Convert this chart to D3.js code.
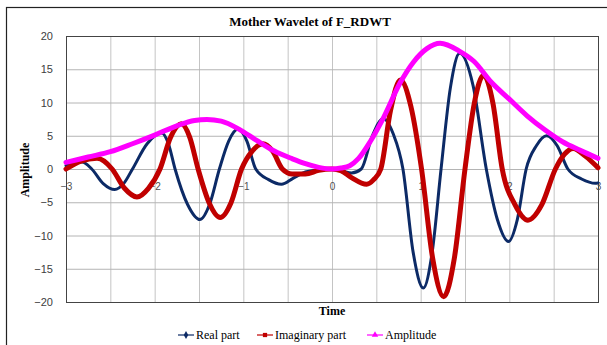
<!DOCTYPE html>
<html>
<head>
<meta charset="utf-8">
<script src="https://cdn.jsdelivr.net/npm/d3@7/dist/d3.min.js"></script>
<style>
  html, body { margin: 0; padding: 0; background: #fff; }
  svg { display: block; }
</style>
</head>
<body>
<svg id="chart" width="607" height="345"></svg>
<script>
// Mother wavelet samples (x = time, y = amplitude)
const realX = [-3, -2.82, -2.71, -2.58, -2.45, -2.35, -2.25, -2.085, -1.92, -1.845, -1.77, -1.63, -1.49, -1.38, -1.27, -1.165, -1.06, -0.96, -0.86, -0.715, -0.57, -0.44, -0.30, -0.14, 0, 0.12, 0.22, 0.33, 0.455, 0.58, 0.69, 0.80, 0.915, 1.03, 1.13, 1.23, 1.335, 1.44, 1.59, 1.74, 1.865, 1.99, 2.09, 2.19, 2.305, 2.42, 2.54, 2.66, 2.815, 2.97, 3];
const realY = [0.5, 1.05, 0, -2.2, -3.1, -2.2, 0, 3.8, 5.4, 3.8, 0, -5.3, -7.6, -5.3, 0, 4.2, 6.0, 4.2, 0, -1.6, -2.3, -1.4, -0.45, -0.1, 0, -0.3, -0.6, 0, 5.0, 7.6, 5.3, 0, -12.5, -17.9, -12.5, 0, 12.2, 17.4, 12.6, 0, -7.6, -10.9, -7.6, 0, 3.5, 5.0, 3.5, 0, -1.5, -2.15, -2.1];

const imagX = [-3, -2.83, -2.65, -2.48, -2.34, -2.20, -2.07, -1.94, -1.82, -1.70, -1.605, -1.51, -1.385, -1.26, -1.14, -1.02, -0.90, -0.78, -0.67, -0.56, -0.45, -0.30, -0.15, 0, 0.1, 0.22, 0.39, 0.47, 0.55, 0.66, 0.77, 0.89, 1.01, 1.135, 1.26, 1.38, 1.50, 1.605, 1.71, 1.815, 1.92, 2.065, 2.21, 2.365, 2.52, 2.62, 2.72, 2.86, 3];
const imagY = [0, 1.2, 1.6, 0, -2.9, -4.2, -2.9, 0, 4.8, 6.8, 4.8, 0, -5.1, -7.3, -5.1, 0, 2.7, 3.8, 2.7, 0, -0.75, -0.75, -0.2, 0, -0.25, -1.3, -2.3, -1.6, 0, 8.8, 13.4, 9.4, 0, -13.4, -19.2, -13.4, 0, 9.9, 14.1, 9.9, 0, -5.4, -7.7, -5.4, 0, 2.2, 3.1, 1.9, 0.2];

const ampX = [-3, -2.75, -2.5, -2.25, -2.0, -1.75, -1.55, -1.41, -1.25, -1.05, -0.85, -0.65, -0.45, -0.3, -0.15, 0, 0.1, 0.2, 0.3, 0.43, 0.58, 0.77, 0.92, 1.07, 1.22, 1.44, 1.6, 1.8, 2.0, 2.2, 2.4, 2.6, 2.8, 3];
const ampY = [1.0, 1.8, 2.6, 3.8, 5.1, 6.5, 7.3, 7.45, 7.2, 6.0, 4.3, 2.7, 1.55, 0.8, 0.25, 0, 0.15, 0.5, 1.6, 4.1, 7.7, 13.0, 16.1, 18.1, 18.9, 17.7, 16.2, 13.0, 10.5, 8.0, 5.9, 4.1, 2.8, 1.6];

const xTicks = [-3, -2, -1, 0, 1, 2, 3];
const yTicks = [-20, -15, -10, -5, 0, 5, 10, 15, 20];
const seriesNames = ["Real part", "Imaginary part", "Amplitude"];
const chartTitle = "Mother Wavelet of F_RDWT";

const svg = d3.select("#chart");
const plotL = 66, plotR = 598, plotT = 36, plotB = 302;

const x = d3.scaleLinear().domain([-3, 3]).range([plotL, plotR]);
const y = d3.scaleLinear().domain([-20, 20]).range([plotB, plotT]);

// outer chart frame
svg.append("rect")
  .attr("x", 6.5).attr("y", 7.5).attr("width", 700).attr("height", 400)
  .attr("fill", "none").attr("stroke", "#222").attr("stroke-width", 1.2);

// gridlines
const gridX = d3.range(-3, 3.001, 0.5);
svg.append("g").attr("transform", `translate(0,${plotB})`)
  .call(d3.axisBottom(x).tickValues(gridX).tickSize(-(plotB - plotT)).tickFormat(""))
  .call(g => g.select(".domain").remove())
  .call(g => g.selectAll("line").attr("stroke", "#c4c4c4").attr("stroke-width", 1));
svg.append("g").attr("transform", `translate(${plotL},0)`)
  .call(d3.axisLeft(y).tickValues(yTicks).tickSize(-(plotR - plotL)).tickFormat(""))
  .call(g => g.select(".domain").remove())
  .call(g => g.selectAll("line").attr("stroke", "#b4b4b4").attr("stroke-width", 1));

// plot area border
svg.append("rect")
  .attr("x", plotL + 0.5).attr("y", plotT + 0.5)
  .attr("width", plotR - plotL).attr("height", plotB - plotT)
  .attr("fill", "none").attr("stroke", "#444").attr("stroke-width", 1);

// y tick labels
svg.append("g").attr("transform", `translate(${plotL},0)`)
  .call(d3.axisLeft(y).tickValues(yTicks).tickSize(0).tickPadding(13))
  .call(g => g.select(".domain").remove())
  .call(g => g.selectAll("text")
    .attr("font-family", "Liberation Sans, Arial, sans-serif")
    .attr("font-size", 11).attr("fill", "#404040"));

// x tick labels sitting on the zero line
svg.append("g").attr("transform", `translate(0,${y(0)})`)
  .call(d3.axisBottom(x).tickValues(xTicks).tickSize(0).tickPadding(14).tickFormat(d3.format("d")))
  .call(g => g.select(".domain").remove())
  .call(g => g.selectAll("text")
    .attr("font-family", "Liberation Sans, Arial, sans-serif")
    .attr("font-size", 10).attr("fill", "#505050"));

// smoothed curves, drawn as functions of time
const series = [
  { name: seriesNames[0], xs: realX, ys: realY, color: "#0c2a66", width: 3 },
  { name: seriesNames[1], xs: imagX, ys: imagY, color: "#c00000", width: 5 },
  { name: seriesNames[2], xs: ampX, ys: ampY, color: "#ff00ff", width: 5 }
];
svg.append("clipPath").attr("id", "plotclip")
  .append("rect").attr("x", plotL - 3).attr("y", plotT).attr("width", plotR - plotL + 6).attr("height", plotB - plotT);
const line = d3.line().x(d => x(d[0])).y(d => y(d[1])).curve(d3.curveMonotoneX);
series.forEach(s => {
  svg.append("path")
    .datum(s.xs.map((v, i) => [v, s.ys[i]]))
    .attr("clip-path", "url(#plotclip)")
    .attr("fill", "none")
    .attr("stroke", s.color)
    .attr("stroke-width", s.width)
    .attr("stroke-linejoin", "round")
    .attr("stroke-linecap", "round")
    .attr("d", line);
});

// titles
svg.append("text")
  .attr("x", 310).attr("y", 26).attr("text-anchor", "middle")
  .attr("font-family", "Liberation Serif, Times New Roman, serif")
  .attr("font-weight", "bold").attr("font-size", 13).attr("fill", "#000")
  .text(chartTitle);
svg.append("text")
  .attr("transform", "translate(29,170) rotate(-90)").attr("text-anchor", "middle")
  .attr("font-family", "Liberation Serif, Times New Roman, serif")
  .attr("font-weight", "bold").attr("font-size", 12).attr("fill", "#000")
  .text("Amplitude");
svg.append("text")
  .attr("x", 332).attr("y", 315).attr("text-anchor", "middle")
  .attr("font-family", "Liberation Serif, Times New Roman, serif")
  .attr("font-weight", "bold").attr("font-size", 12).attr("fill", "#000")
  .text("Time");

// legend
const legendPos = [178, 257, 367];
const markerShapes = [d3.symbolDiamond, d3.symbolSquare, d3.symbolTriangle];
const legend = svg.append("g");
series.forEach((s, i) => {
  const lx = legendPos[i], ly = 335;
  legend.append("line")
    .attr("x1", lx).attr("x2", lx + 16).attr("y1", ly).attr("y2", ly)
    .attr("stroke", s.color).attr("stroke-width", 1.2);
  legend.append("path")
    .attr("transform", `translate(${lx + 8},${ly})`)
    .attr("d", d3.symbol().type(markerShapes[i]).size(18))
    .attr("fill", s.color);
  legend.append("text")
    .attr("x", lx + 18).attr("y", ly + 4)
    .attr("font-family", "Liberation Serif, Times New Roman, serif")
    .attr("font-size", 12).attr("fill", "#000")
    .text(s.name);
});
</script>
</body>
</html>
